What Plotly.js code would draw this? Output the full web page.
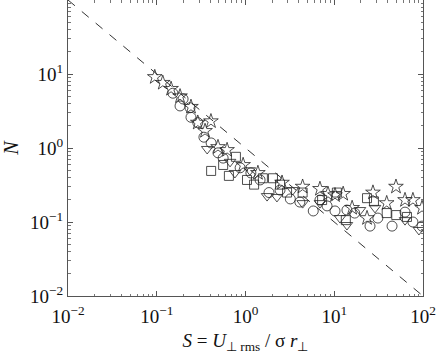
<!DOCTYPE html>
<html>
<head>
<meta charset="utf-8">
<script src="https://cdn.plot.ly/plotly-3.0.1.min.js"></script>
<style>
  html, body { margin: 0; padding: 0; background: #fff; }
  #chart { width: 436px; height: 357px; }
</style>
</head>
<body>
<div id="chart"></div>
<script>
// stars
const star_S = [0.095, 0.117, 0.145, 0.183, 0.243, 0.408, 0.29, 0.35, 0.49, 0.62, 0.94, 1.38,
    2.58, 4.4, 6.9, 8.5, 10.2, 12.6, 15.9, 23.4, 27.3, 39, 49.6, 62.7, 77, 97.5];
const star_N = [9.1, 7.6, 6.3, 5.0, 3.6, 2.3, 2.2, 1.7, 1.03, 0.94, 0.59, 0.46,
    0.34, 0.30, 0.28, 0.24, 0.23, 0.24, 0.155, 0.113, 0.25, 0.18, 0.30, 0.198, 0.198, 0.155];

// circles
const circle_S = [0.152, 0.198, 0.183, 0.237, 0.243, 0.29, 0.34, 0.41, 0.49, 0.56, 0.87, 1.15,
    1.46, 1.84, 2.45, 3.2, 4.1, 5.8, 6.9, 8.3, 10.2, 13.9, 17, 25.3, 31, 44.8, 62.7, 77, 97.5];
const circle_N = [5.5, 4.6, 3.7, 3.5, 2.6, 2.2, 1.4, 1.17, 0.86, 0.73, 0.54, 0.46,
    0.37, 0.25, 0.27, 0.205, 0.186, 0.141, 0.198, 0.165, 0.141, 0.145, 0.132, 0.088, 0.113, 0.088, 0.136, 0.1, 0.088];

// triangles
const tri_S = [0.37, 0.67, 0.76, 1.12, 1.75, 2.26, 3.4, 4.4, 6.9, 11.6, 13.9, 19.5, 28.8, 62.7, 90];
const tri_N = [0.97, 0.65, 0.46, 0.50, 0.224, 0.218, 0.27, 0.18, 0.18, 0.113, 0.091, 0.145, 0.155, 0.106, 0.078];

// squares
const square_S = [0.41, 0.56, 0.65, 0.78, 1.04, 1.25, 1.57, 2.04, 2.45, 2.94, 4.4, 7.3, 10.7, 13.5,
    23.4, 28, 39, 50, 66];
const square_N = [0.49, 0.59, 0.42, 0.76, 0.37, 0.32, 0.39, 0.39, 0.32, 0.25, 0.25, 0.198, 0.25, 0.106,
    0.21, 0.19, 0.132, 0.124, 0.117];

// reference line N = 1/S
const ref_S = [0.01, 100];
const ref_N = [100, 0.01];

const tick_vals = [0.01, 0.1, 1, 10, 100];
const tick_text = ["10<sup>−2</sup>", "10<sup>−1</sup>", "10<sup>0</sup>", "10<sup>1</sup>", "10<sup>2</sup>"];

// minor ticks at 2..9 of each decade
const minor_vals = [];
for (let d = -2; d < 2; d++) {
    for (let k = 2; k <= 9; k++) {
        minor_vals.push(k * Math.pow(10, d));
    }
}

const serif = "Liberation Serif";

const series = (x, y, symbol, size) => ({
    x: x,
    y: y,
    mode: "markers",
    type: "scatter",
    marker: {
        symbol: symbol,
        size: size,
        color: "#222",
        line: { color: "#222", width: 0.8 },
    },
    showlegend: false,
});

const data = [
    {
        x: ref_S,
        y: ref_N,
        mode: "lines",
        type: "scatter",
        line: { color: "#333", width: 1, dash: "dash" },
        showlegend: false,
    },
    series(square_S, square_N, "square-open", 9),
    series(tri_S, tri_N, "triangle-down-open", 10),
    series(circle_S, circle_N, "circle-open", 10),
    series(star_S, star_N, "star-open", 11),
];

const axis_common = {
    type: "log",
    showline: true,
    linecolor: "#555",
    linewidth: 1,
    mirror: "ticks",
    ticks: "inside",
    ticklen: 5,
    tickcolor: "#555",
    showgrid: false,
    zeroline: false,
    tickmode: "array",
    tickfont: { family: serif, size: 19, color: "#111" },
    minor: {
        tickmode: "array",
        tickvals: minor_vals,
        ticks: "inside",
        ticklen: 2.5,
        tickcolor: "#777",
        showgrid: false,
    },
};

const layout = {
    width: 436,
    height: 357,
    margin: { l: 68, r: 13, t: 0, b: 61 },
    paper_bgcolor: "#fff",
    plot_bgcolor: "#fff",
    font: { family: serif, color: "#111" },
    xaxis: Object.assign({}, axis_common, {
        range: [-2, 2],
        tickvals: tick_vals,
        ticktext: tick_text,
        ticklabelstandoff: 3,
        title: {
            text: "<i>S</i> = <i>U</i><sub>⊥ rms</sub> / σ <i>r</i><sub>⊥</sub>",
            font: { family: serif, size: 19 },
            standoff: 7,
        },
    }),
    yaxis: Object.assign({}, axis_common, {
        range: [-2, 2],
        tickvals: tick_vals.slice(0, 4),
        ticktext: tick_text.slice(0, 4),
        title: { text: "<i>N</i>", font: { family: serif, size: 20 }, standoff: 10 },
    }),
};

Plotly.newPlot("chart", data, layout, { displayModeBar: false, staticPlot: true });
</script>
</body>
</html>
